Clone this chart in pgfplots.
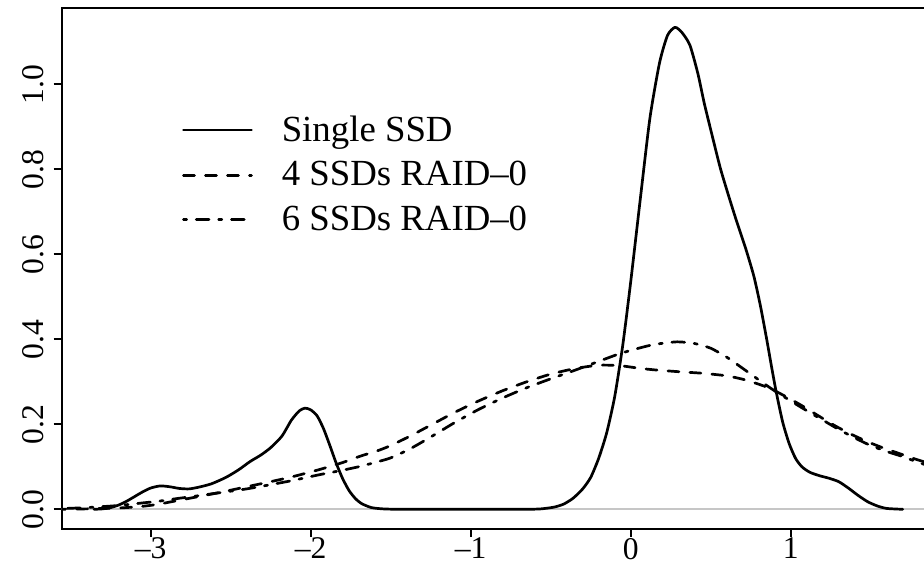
\documentclass[border=0pt]{standalone}
\usepackage{fontspec}
\setmainfont{Liberation Serif}
\usepackage{pgfplots}
\pgfplotsset{compat=1.18}
\begin{document}
\begin{tikzpicture}
\begin{axis}[
  scale only axis, width=432.5pt, height=260.5pt,
  xmin=-3.556, xmax=1.85, ymin=-0.0464, ymax=1.1795,
  clip=true,
  axis line style={line width=1pt},
  every tick/.style={black, line width=1pt},
  tick align=outside, tick pos=left,
  major tick length=4pt,
  xtick={-3,-2,-1,0,1}, xticklabels={–3,–2,–1,0,1},
  ytick={0,0.2,0.4,0.6,0.8,1.0}, yticklabels={0.0,0.2,0.4,0.6,0.8,1.0},
  ticklabel style={font=\fontsize{15.8}{17}\selectfont},
  xticklabel style={inner sep=0.3pt},
  yticklabel style={rotate=90, anchor=south, inner sep=4.6pt},
  legend style={draw=none, fill=none, at={(0.1387,0.7937)}, anchor=north west,
    font=\fontsize{18.4}{21}\selectfont, row sep=8.5pt, inner sep=0pt, column sep=14.5pt,
    nodes={inner sep=0pt}},
  legend cell align=left,
  legend image code/.code={\draw[#1] (0pt,0pt) -- (34pt,0pt);},
  every axis plot/.append style={line width=1.35pt, line cap=round, line join=round, black},
]
\addplot[gray!45, line width=1pt, forget plot] coordinates {(-3.556,0) (1.85,0)};
\addplot[solid, smooth, tension=0.4] coordinates {
(-3.354,0) (-3.30,0.001) (-3.25,0.004) (-3.20,0.010) (-3.15,0.019) (-3.10,0.030)
(-3.05,0.041) (-3.00,0.050) (-2.94,0.055) (-2.88,0.053) (-2.82,0.049) (-2.76,0.048)
(-2.70,0.052) (-2.62,0.060) (-2.53,0.075) (-2.45,0.093) (-2.38,0.112) (-2.31,0.128)
(-2.25,0.145) (-2.18,0.172) (-2.12,0.210) (-2.07,0.232) (-2.035,0.238) (-2.00,0.234)
(-1.96,0.220) (-1.92,0.190) (-1.88,0.150) (-1.84,0.108) (-1.80,0.072) (-1.76,0.044)
(-1.72,0.025) (-1.68,0.013) (-1.62,0.004) (-1.55,0.001) (-1.45,0) (-1.2,0) (-0.9,0)
(-0.65,0) (-0.56,0.001) (-0.48,0.005) (-0.42,0.012) (-0.36,0.026) (-0.30,0.048)
(-0.25,0.075) (-0.20,0.120) (-0.15,0.180) (-0.10,0.265) (-0.05,0.385) (0.00,0.535)
(0.06,0.730) (0.12,0.920) (0.18,1.050) (0.23,1.115) (0.277,1.134) (0.32,1.122)
(0.37,1.092) (0.42,1.025) (0.46,0.955) (0.51,0.878) (0.56,0.803) (0.61,0.740)
(0.66,0.680) (0.72,0.612) (0.77,0.548) (0.81,0.480) (0.85,0.400) (0.88,0.336)
(0.91,0.275) (0.95,0.205) (0.99,0.155) (1.03,0.120) (1.07,0.100) (1.12,0.087)
(1.18,0.079) (1.24,0.073) (1.30,0.065) (1.36,0.050) (1.42,0.033) (1.48,0.018)
(1.54,0.008) (1.60,0.002) (1.70,0)
};
\addlegendentry{Single SSD}
\addplot[dash pattern=on 5.5pt off 5.5pt, smooth, tension=0.4] coordinates {
(-3.60,0.000) (-3.40,0.001) (-3.20,0.003) (-3.05,0.007) (-2.95,0.012) (-2.84,0.020)
(-2.70,0.030) (-2.55,0.041) (-2.40,0.053) (-2.25,0.065) (-2.11,0.077) (-1.95,0.093)
(-1.80,0.110) (-1.69,0.125) (-1.58,0.138) (-1.50,0.150) (-1.38,0.172) (-1.25,0.198)
(-1.10,0.228) (-0.95,0.255) (-0.80,0.279) (-0.65,0.300) (-0.50,0.318) (-0.35,0.331)
(-0.20,0.339) (-0.07,0.338) (0.05,0.332) (0.15,0.328) (0.29,0.324) (0.45,0.320)
(0.60,0.314) (0.70,0.306) (0.77,0.298) (0.84,0.289) (0.90,0.279) (0.97,0.265)
(1.06,0.246) (1.16,0.223) (1.27,0.198) (1.37,0.178) (1.48,0.159) (1.58,0.144)
(1.68,0.131) (1.78,0.118) (1.90,0.104)
};
\addlegendentry{4 SSDs RAID–0}
\addplot[dash pattern=on 1.6pt off 4.8pt on 6.4pt off 4.8pt, smooth, tension=0.4] coordinates {
(-3.60,0.001) (-3.40,0.004) (-3.20,0.009) (-3.05,0.015) (-2.95,0.019) (-2.84,0.025)
(-2.70,0.032) (-2.55,0.040) (-2.40,0.048) (-2.25,0.058) (-2.11,0.068) (-1.95,0.081)
(-1.80,0.092) (-1.69,0.101) (-1.58,0.112) (-1.50,0.121) (-1.38,0.142) (-1.25,0.170)
(-1.10,0.204) (-0.95,0.235) (-0.80,0.262) (-0.65,0.286) (-0.50,0.307) (-0.35,0.327)
(-0.20,0.348) (-0.07,0.366) (0.05,0.379) (0.15,0.388) (0.29,0.394) (0.40,0.390)
(0.50,0.379) (0.60,0.358) (0.68,0.337) (0.78,0.310) (0.89,0.281) (1.00,0.255)
(1.10,0.232) (1.20,0.210) (1.30,0.188) (1.40,0.168) (1.50,0.150) (1.60,0.136)
(1.70,0.124) (1.80,0.110) (1.90,0.098)
};
\addlegendentry{6 SSDs RAID–0}
\end{axis}
\pgfresetboundingbox
\path[use as bounding box] ([xshift=-30.85pt,yshift=-17pt]current axis.south west) rectangle ([xshift=-1.35pt,yshift=4pt]current axis.north east);
\end{tikzpicture}
\end{document}
